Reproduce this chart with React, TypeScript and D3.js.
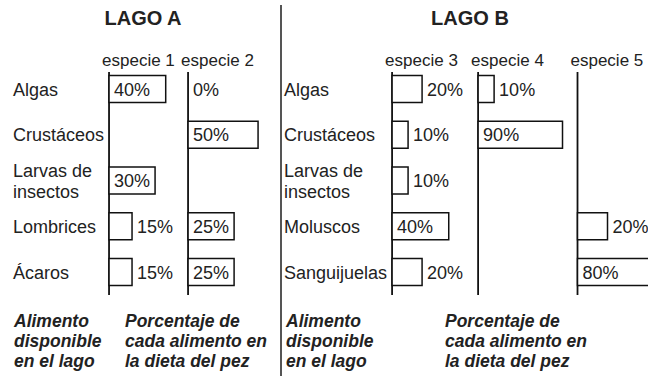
import React from "react";
import * as d3 from "d3";

// panel titles and columns
const lakeTitles = ["LAGO A", "LAGO B"];
const foodsA = ["Algas", "Crustáceos", "Larvas de\ninsectos", "Lombrices", "Ácaros"];
const foodsB = ["Algas", "Crustáceos", "Larvas de\ninsectos", "Moluscos", "Sanguijuelas"];
const speciesA = ["especie 1", "especie 2"];
const speciesB = ["especie 3", "especie 4", "especie 5"];

// % of each food in the diet of each species (null = no entry)
const especie1 = [40, null, 30, 15, 15];
const especie2 = [0, 50, null, 25, 25];
const especie3 = [20, 10, 10, 40, 20];
const especie4 = [10, 90, null, null, null];
const especie5 = [null, null, null, 20, 80];

const noteFood = ["Alimento", "disponible", "en el lago"];
const noteDiet = ["Porcentaje de", "cada alimento en", "la dieta del pez"];

const W = 648;
const H = 376;
const FONT = "'Liberation Sans', Arial, Helvetica, sans-serif";
const FS = 18;
const INK = "#222";

const panels = [
  { title: lakeTitles[0], foods: foodsA, species: speciesA, values: [especie1, especie2], labelX: 13, titleX: 143, noteX: [14, 125] },
  { title: lakeTitles[1], foods: foodsB, species: speciesB, values: [especie3, especie4, especie5], labelX: 284, titleX: 470, noteX: [286, 445] },
];

let ctx: CanvasRenderingContext2D | null = null;
function textWidth(s: string, size = FS) {
  if (!ctx) ctx = document.createElement("canvas").getContext("2d");
  if (!ctx) return s.length * size * 0.55;
  ctx.font = `${size}px 'Liberation Sans', Arial, sans-serif`;
  return ctx.measureText(s).width;
}

// the drawing is not to scale past 50%, so the scale bends there
const x = d3.scaleLinear().domain([0, 10, 20, 50, 100]).range([0, 16, 30, 70, 88]);
const y = d3.scalePoint<number>().domain(d3.range(5)).range([89, 272]);
const barH = 27;
const colGap = 15;

function cell(v: number | null) {
  if (v == null) return null;
  const label = `${v}%`;
  const tw = textWidth(label);
  const inside = v >= 25;
  const w = v === 0 ? 0 : inside ? Math.max(x(v), tw + 10) : x(v);
  const lx = inside ? 5 : w + 5;
  return { v, label, w, lx, extent: inside ? w : w + 5 + tw };
}

const Panel = ({ p }: { p: (typeof panels)[number] }) => {
  const maxLabel = d3.max(p.foods.flatMap((f) => f.split("\n")), (s) => textWidth(s)) as number;
  const cols = p.values.map((vals) => vals.map(cell));
  const axisX: number[] = [];
  cols.forEach((c, i) => {
    if (i === 0) axisX.push(p.labelX + maxLabel + 5);
    else {
      const prev = d3.max(cols[i - 1], (d) => (d ? d.extent : 0)) as number;
      axisX.push(axisX[i - 1] + prev + colGap);
    }
  });
  const top = (y(0) as number) - 17;
  const bottom = (y(4) as number) + 23;

  return (
    <g>
      <text x={p.titleX} y={25} textAnchor="middle" fontSize={20} fontWeight="bold" fill={INK}>
        {p.title}
      </text>
      {p.foods.map((f, i) => {
        const lines = f.split("\n");
        const cy = y(i) as number;
        return (
          <text key={f} x={p.labelX} fontSize={FS} fill={INK}>
            {lines.map((l, k) => (
              <tspan key={k} x={p.labelX} y={cy + 6.5 + (k - (lines.length - 1) / 2) * 21}>
                {l}
              </tspan>
            ))}
          </text>
        );
      })}
      {p.species.map((s, i) => (
        <g key={s} transform={`translate(${axisX[i]},0)`}>
          <text x={-7} y={66} fontSize={17} fill={INK}>
            {s}
          </text>
          <line x1={0} x2={0} y1={top} y2={bottom} stroke="#111" strokeWidth={1.8} />
          {cols[i].map((d, r) =>
            d ? (
              <g key={r} transform={`translate(0,${y(r)})`}>
                {d.w > 0 && (
                  <rect x={0} y={-barH / 2} width={d.w} height={barH} fill="#fff" stroke="#111" strokeWidth={1.5} />
                )}
                <text x={d.lx} y={6.5} fontSize={FS} fill={INK}>
                  {d.label}
                </text>
              </g>
            ) : null
          )}
        </g>
      ))}
      {[noteFood, noteDiet].map((lines, j) => (
        <text key={j} fontSize={17.5} fontWeight="bold" fontStyle="italic" fill={INK}>
          {lines.map((l, k) => (
            <tspan key={k} x={p.noteX[j]} y={327 + k * 20}>
              {l}
            </tspan>
          ))}
        </text>
      ))}
    </g>
  );
};

export default function App() {
  return (
    <svg
      width={W}
      height={H}
      viewBox={`0 0 ${W} ${H}`}
      style={{ position: "absolute", left: 0, top: 0, background: "#fff", fontFamily: FONT }}
    >
      <rect width={W} height={H} fill="#fff" />
      <line x1={281} x2={281} y1={5} y2={H} stroke="#555" strokeWidth={2} />
      {panels.map((p) => (
        <Panel key={p.title} p={p} />
      ))}
    </svg>
  );
}
